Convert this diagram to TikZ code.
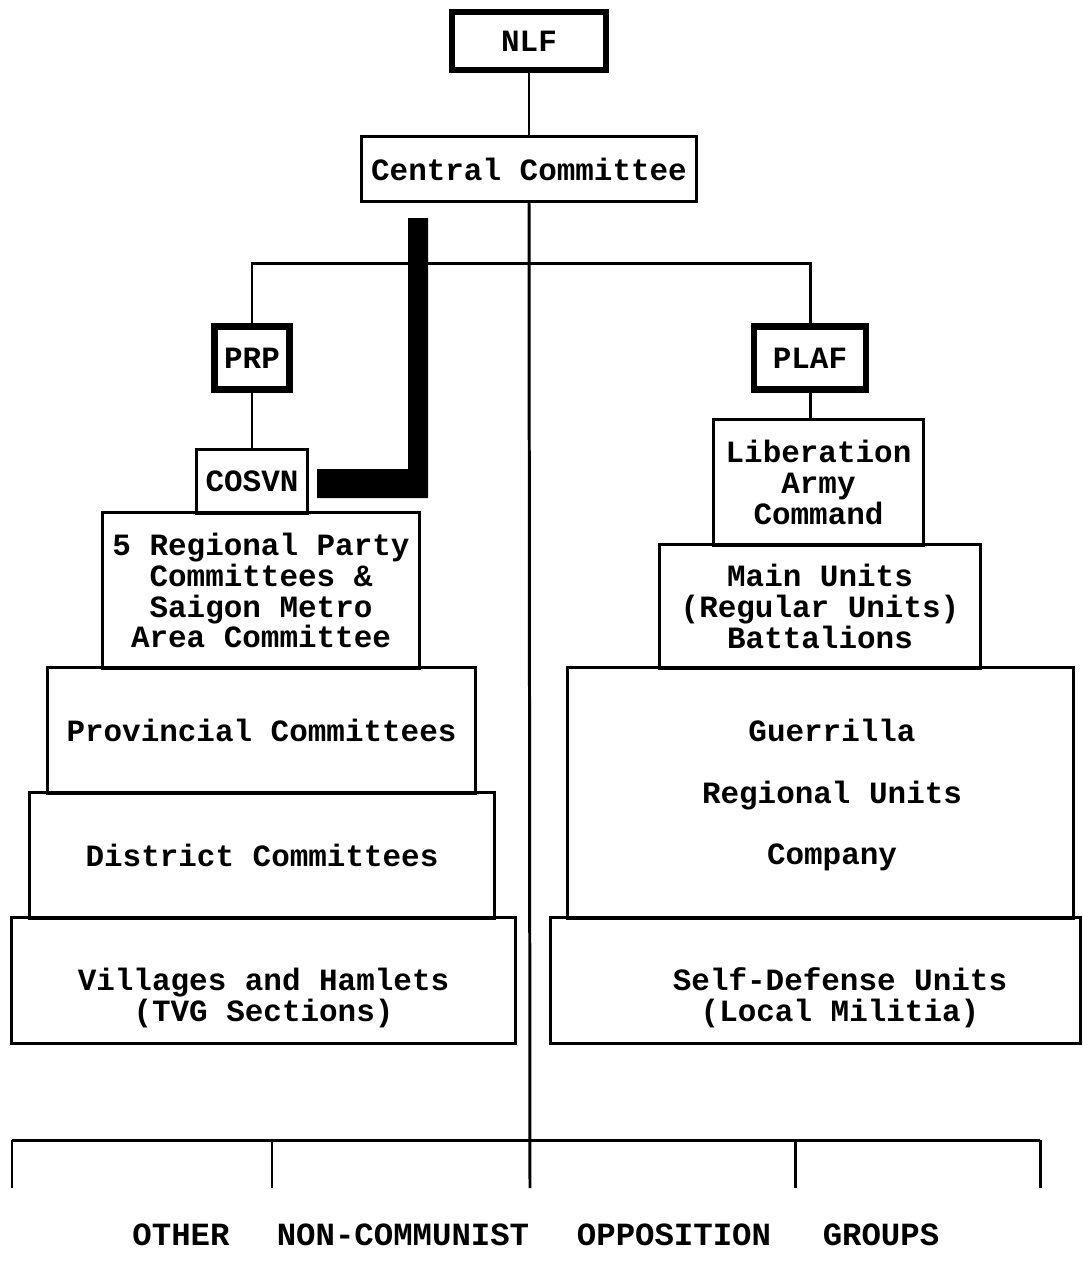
\documentclass[tikz,border=0pt]{standalone}
\usepackage{fontspec}
\newfontfamily\orgfont{Liberation Mono}
\usepackage{tikz}
\usetikzlibrary{positioning, calc}

\begin{document}
\begin{tikzpicture}[x=0.01cm, y=-0.01cm,
    orgtext/.style={inner sep=0pt, align=center,
      font={\orgfont\bfseries\fontsize{8.8}{8.8}\selectfont}},
    orgbox/.style={orgtext, draw, line width=0.85pt},
    heavybox/.style={orgbox, line width=1.8pt},
    link/.style={line width=0.85pt}]
    \useasboundingbox (0,0) rectangle (1083,1278);
    % Top of the chart
    \node[heavybox, minimum width=1.54cm, minimum height=0.58cm] (nlf) at (529,41) {NLF};
    \node[orgbox, minimum width=3.34cm, minimum height=0.64cm] (cc) at (529,169) {Central Committee};
    \draw[link] (nlf) -- (cc);
    % Party side
    \node[heavybox, minimum width=0.75cm, minimum height=0.63cm] (prp) at (252,358) {PRP};
    \node[orgbox, minimum width=1.10cm, minimum height=0.63cm] (cosvn) at (252,481.5) {COSVN};
    \node[orgbox, minimum width=3.16cm, minimum height=1.55cm] (regional) at (261,590.5)
      {5 Regional Party\\Committees \&\\Saigon Metro\\Area Committee};
    \node[orgbox, minimum width=4.27cm, minimum height=1.25cm] (provincial) at (261.5,730.5) {Provincial Committees};
    \node[orgbox, minimum width=4.64cm, minimum height=1.25cm] (district) at (262,855.5) {District Committees};
    \node[orgbox, minimum width=5.03cm, minimum height=1.25cm] (villages) at (263.5,980.5) {};
    \node[orgtext] (villagestext) at (263.5,998) {Villages and Hamlets\\(TVG Sections)};
    \draw[link] (prp) -- (cosvn);
    % Army side
    \node[heavybox, minimum width=1.12cm, minimum height=0.63cm] (plaf) at (810,358) {PLAF};
    \node[orgbox, minimum width=2.09cm, minimum height=1.25cm] (liberation) at (818.5,482.5)
      {Liberation\\Army\\Command};
    \node[orgbox, minimum width=3.20cm, minimum height=1.23cm] (mainunits) at (820,606.5)
      {Main Units\\(Regular Units)\\Battalions};
    \node[orgbox, minimum width=5.05cm, minimum height=2.50cm] (guerrilla) at (820.5,793) {};
    \node[orgtext] (guerrillatext) at (832,795)
      {Guerrilla\\[8.8pt]Regional Units\\[8.8pt]Company};
    \node[orgbox, minimum width=5.29cm, minimum height=1.25cm] (selfdef) at (815.5,980.5) {};
    \node[orgtext] (selfdeftext) at (840,998) {Self-Defense Units\\(Local Militia)};
    \draw[link] (plaf.south) -- (plaf.south |- liberation.north);
    % Split below the Central Committee
    \coordinate (split) at (530,263);
    \draw[link] (prp.north) |- (split) -| (plaf.north);
    % Heavy black bracket
    \fill (408,218) -- (428,218) -- (428,498) -- (317,498) -- (317,469) -- (408,469) -- cycle;
    % Opposition groups
    \coordinate (bar) at (530,1140);
    \draw[link] (12,1140) -- (1040,1140);
    \foreach \gx in {12,272,795,1040}
      \draw[link] (\gx,1140) -- (\gx,1188);
    \coordinate (barend) at (530,1188);
    \draw[link] (cc.south) -- (barend);
    \node[font={\orgfont\bfseries\fontsize{9.2}{9.2}\selectfont}] (other) at (181,1235) {OTHER};
    \node[font={\orgfont\bfseries\fontsize{9.2}{9.2}\selectfont}] (noncom) at (403,1235) {NON-COMMUNIST};
    \node[font={\orgfont\bfseries\fontsize{9.2}{9.2}\selectfont}] (opposition) at (674,1235) {OPPOSITION};
    \node[font={\orgfont\bfseries\fontsize{9.2}{9.2}\selectfont}] (groups) at (881,1235) {GROUPS};
\end{tikzpicture}
\end{document}
